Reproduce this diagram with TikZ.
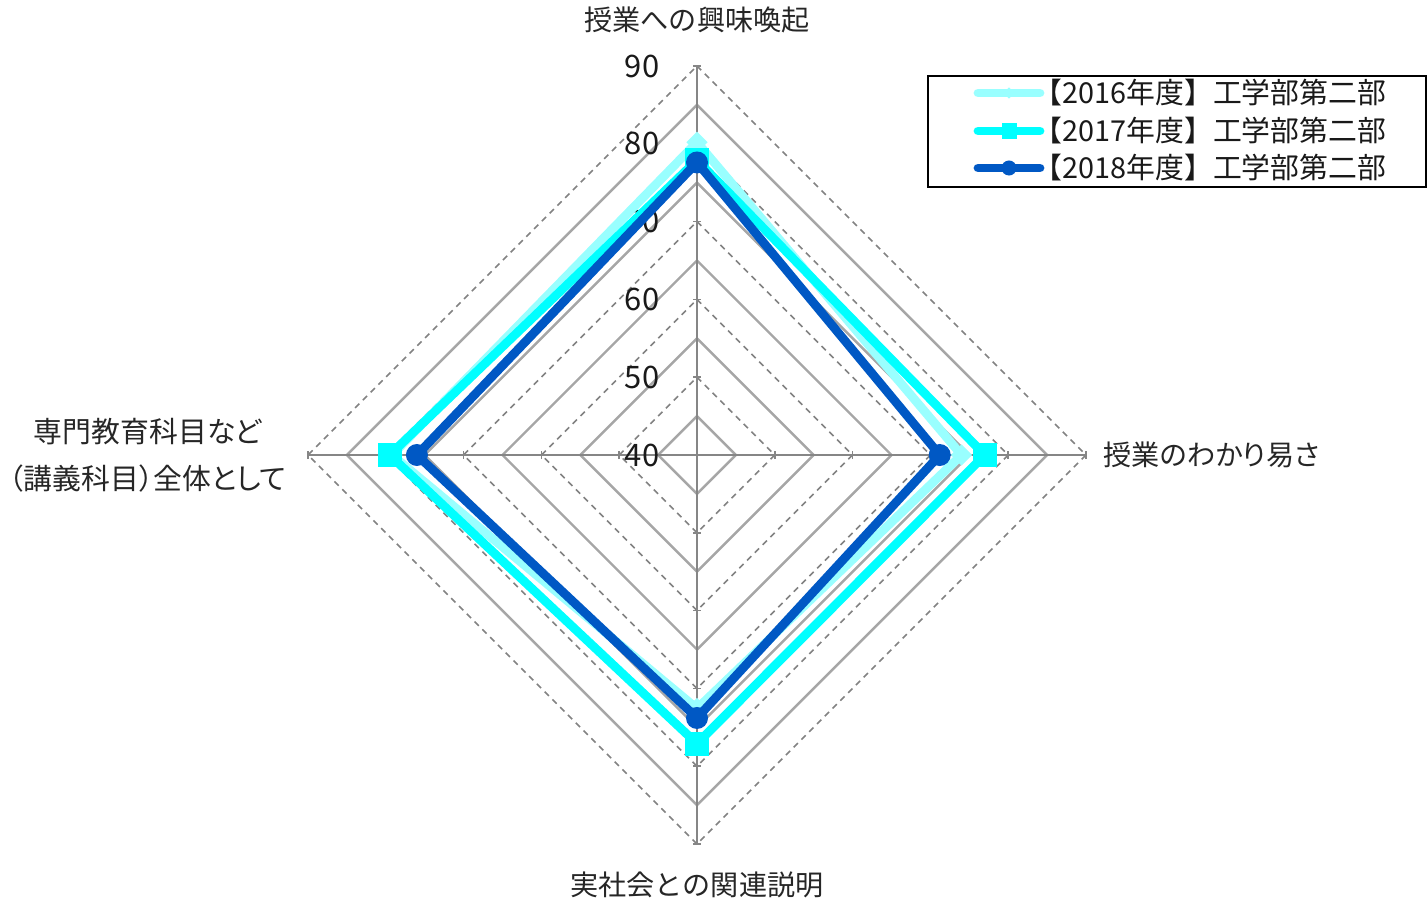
\documentclass[tikz,border=0pt]{standalone}
\usepackage{fontspec}
\setmainfont{Noto Sans CJK JP}
\newfontfamily\jpprop[RawFeature=+palt]{Noto Sans CJK JP}
\definecolor{cyan16}{RGB}{153, 255, 255}
\definecolor{cyan17}{RGB}{0, 255, 255}
\definecolor{blue18}{RGB}{0, 88, 196}
\definecolor{gridgray}{RGB}{166, 166, 166}
\definecolor{dashgray}{RGB}{130, 130, 130}
\definecolor{axisgray}{RGB}{134, 134, 134}
\usetikzlibrary{shapes.geometric, positioning, calc}
\newcommand{\rad}[1]{(#1-40)*7.78}

\begin{document}
\begin{tikzpicture}[x=0.01cm, y=0.01cm,
    gridsolid/.style={draw=gridgray, line width=0.7pt},
    griddash/.style={draw=dashgray, line width=0.45pt, dash pattern=on 0.6mm off 0.5mm},
    axisline/.style={draw=axisgray, line width=0.7pt},
    axislabel/.style={font=\fontsize{8.8pt}{10pt}\selectfont, text=black!90, anchor=east, inner sep=0pt},
    catlabel/.style={font=\fontsize{8pt}{13.4pt}\selectfont, text=black!85, inner sep=0pt, align=center},
    line16/.style={draw=cyan16, line width=2.5pt, line join=miter},
    line17/.style={draw=cyan17, line width=2.5pt, line join=miter},
    line18/.style={draw=blue18, line width=2.5pt, line join=miter},
    mark16/.style={diamond, fill=cyan16, inner sep=0pt, minimum size=2.2mm},
    mark17/.style={rectangle, fill=cyan17, inner sep=0pt, minimum size=2.4mm},
    mark18/.style={circle, fill=blue18, inner sep=0pt, minimum size=2.2mm},
    legtext/.style={font=\fontsize{8.2pt}{10pt}\selectfont, text=black!90, anchor=west, inner sep=0pt}]
  \useasboundingbox (-697,-448) rectangle (731,455);

  \foreach \v in {45,55,...,85}
    \draw[gridsolid] (0,{\rad{\v}}) -- ({\rad{\v}},0) -- (0,{-\rad{\v}}) -- ({-\rad{\v}},0) -- cycle;
  \foreach \v in {50,60,...,90}
    \draw[griddash] (0,{\rad{\v}}) -- ({\rad{\v}},0) -- (0,{-\rad{\v}}) -- ({-\rad{\v}},0) -- cycle;

  \coordinate (o) at (0,0);
  \coordinate (top) at (0,{\rad{90}});
  \coordinate (right) at ({\rad{90}},0);
  \coordinate (bottom) at (0,{-\rad{90}});
  \coordinate (left) at ({-\rad{90}},0);
  \foreach \p in {top,right,bottom,left}
    \draw[axisline] (o) -- (\p);
  \foreach \v in {50,60,...,90} {
    \draw[axisline, line width=0.5pt] (-4,{\rad{\v}}) -- (4,{\rad{\v}});
    \draw[axisline, line width=0.5pt] (-4,{-\rad{\v}}) -- (4,{-\rad{\v}});
    \draw[axisline, line width=0.5pt] ({\rad{\v}},-4) -- ({\rad{\v}},4);
    \draw[axisline, line width=0.5pt] ({-\rad{\v}},-4) -- ({-\rad{\v}},4);
  }
  \foreach \v in {40,50,...,90}
    \node[axislabel] (tick\v) at (-37,{\rad{\v}}) {\v};

  \node[catlabel] (catT) at (0,435) {授業への興味喚起};
  \node[catlabel, anchor=west, font=\fontsize{8pt}{13.4pt}\selectfont\jpprop] (catR) at (406,0) {授業のわかり易さ};
  \node[catlabel] (catB) at (0,-430) {実社会との関連説明};
  \node[catlabel, font=\fontsize{8.2pt}{13.4pt}\selectfont\jpprop] (catL) at (-549,0) {専門教育科目など\\（講義科目）全体として};

  \foreach \s/\t/\r/\b/\l in {16/80.2/74.0/72.6/79.2, 17/77.9/77.0/77.1/79.5, 18/77.6/71.2/73.8/76.0} {
    \coordinate (s\s-t) at (0,{\rad{\t}});
    \coordinate (s\s-r) at ({\rad{\r}},0);
    \coordinate (s\s-b) at (0,{-\rad{\b}});
    \coordinate (s\s-l) at ({-\rad{\l}},0);
  }
  \draw[line16] (s16-t) -- (s16-r) -- (s16-b) -- (s16-l) -- cycle;
  \foreach \p in {t,r,b,l} \node[mark16] at (s16-\p) {};
  \draw[line17] (s17-t) -- (s17-r) -- (s17-b) -- (s17-l) -- cycle;
  \foreach \p in {t,r,b,l} \node[mark17] at (s17-\p) {};
  \draw[line18] (s18-t) -- (s18-r) -- (s18-b) -- (s18-l) -- cycle;
  \foreach \p in {t,r,b,l} \node[mark18] at (s18-\p) {};

  \draw[black, line width=0.6pt] (231,379) rectangle (729,268);
  \coordinate (leg16a) at (281,362); \coordinate (leg16b) at (343,362);
  \coordinate (leg17a) at (281,324); \coordinate (leg17b) at (343,324);
  \coordinate (leg18a) at (281,287); \coordinate (leg18b) at (343,287);
  \draw[line16, line cap=round] (leg16a) -- (leg16b);
  \node[mark16, minimum size=1.2mm] (legm16) at ($(leg16a)!0.5!(leg16b)$) {};
  \draw[line17, line cap=round] (leg17a) -- (leg17b);
  \node[mark17, minimum size=1.5mm] (legm17) at ($(leg17a)!0.5!(leg17b)$) {};
  \draw[line18, line cap=round] (leg18a) -- (leg18b);
  \node[mark18, minimum size=1.5mm] (legm18) at ($(leg18a)!0.5!(leg18b)$) {};
  \node[legtext] (leg16) at (336,362) {【2016年度】工学部第二部};
  \node[legtext] (leg17) at (336,324) {【2017年度】工学部第二部};
  \node[legtext] (leg18) at (336,287) {【2018年度】工学部第二部};
\end{tikzpicture}
\end{document}
